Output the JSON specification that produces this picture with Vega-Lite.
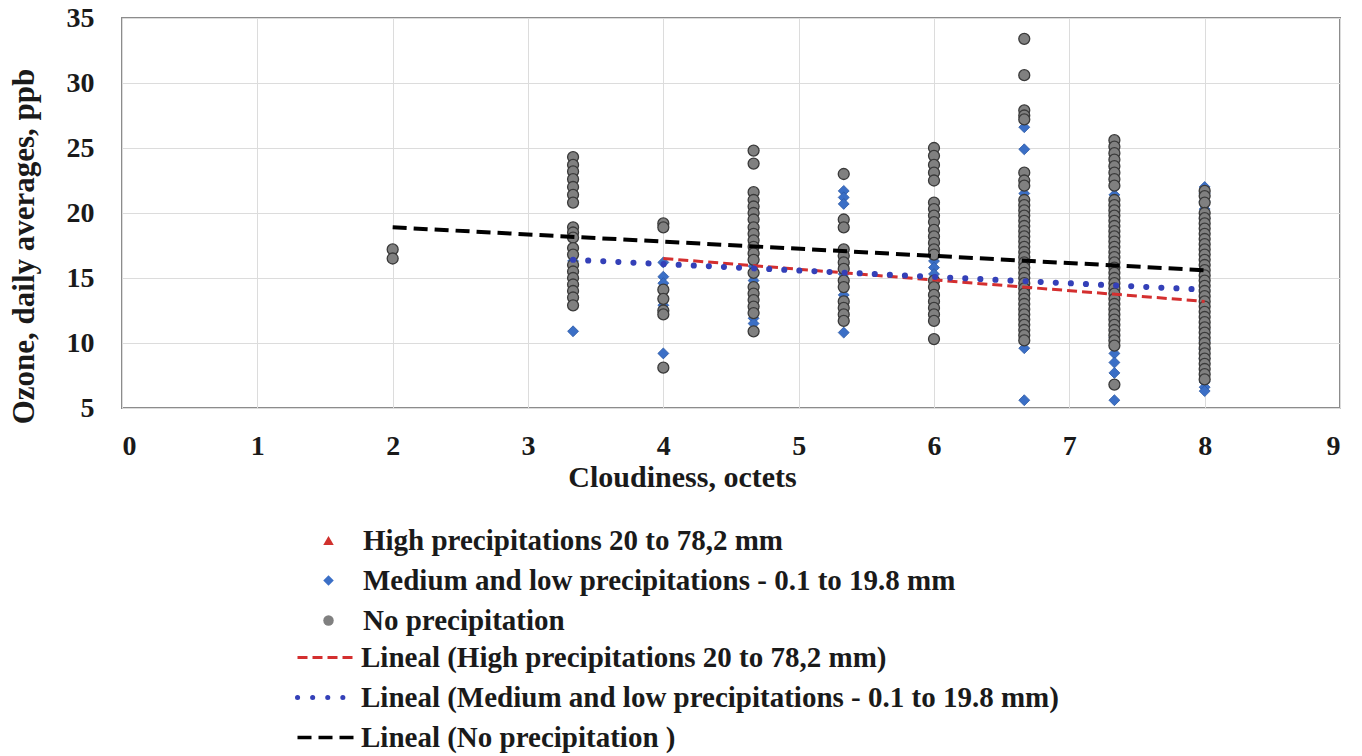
{
  "$schema": "https://vega.github.io/schema/vega-lite/v6.json",
  "width": 1218,
  "height": 390,
  "autosize": {"type": "none"},
  "padding": {"left": 122, "top": 18, "right": 22, "bottom": 348},
  "background": "white",
  "config": {
    "view": {"stroke": "#8c8c8c", "strokeWidth": 2},
    "font": "Liberation Serif",
    "axis": {
      "labelFont": "Liberation Serif", "labelFontWeight": "bold", "labelFontSize": 28, "labelColor": "#1a1a1a",
      "titleFont": "Liberation Serif", "titleFontWeight": "bold", "titleFontSize": 30, "titleColor": "#1a1a1a",
      "gridColor": "#dcdcdc", "gridWidth": 1, "domain": false, "ticks": false
    },
    "legend": {
      "labelFont": "Liberation Serif", "labelFontWeight": "bold", "labelFontSize": 29, "labelColor": "#1a1a1a",
      "labelLimit": 900, "padding": 0, "rowPadding": 10
    }
  },
  "datasets": {
    "pts": [
      {"x": 4, "y": 13.4, "s": "H"}, {"x": 4.667, "y": 16.9, "s": "H"}, {"x": 5.333, "y": 14.8, "s": "H"}, {"x": 6, "y": 14.3, "s": "H"},
      {"x": 6.667, "y": 15.0, "s": "H"}, {"x": 6.667, "y": 13.0, "s": "H"}, {"x": 7.333, "y": 14.2, "s": "H"}, {"x": 7.333, "y": 12.6, "s": "H"},
      {"x": 8, "y": 13.2, "s": "H"}, {"x": 8, "y": 11.2, "s": "H"},

      {"x": 3.333, "y": 16.3, "s": "M"}, {"x": 3.333, "y": 10.9, "s": "M"},
      {"x": 4, "y": 16.2, "s": "M"}, {"x": 4, "y": 15.1, "s": "M"}, {"x": 4, "y": 14.6, "s": "M"}, {"x": 4, "y": 12.9, "s": "M"}, {"x": 4, "y": 9.2, "s": "M"},
      {"x": 4.667, "y": 15.9, "s": "M"}, {"x": 4.667, "y": 14.8, "s": "M"}, {"x": 4.667, "y": 11.9, "s": "M"}, {"x": 4.667, "y": 11.5, "s": "M"},
      {"x": 5.333, "y": 21.7, "s": "M"}, {"x": 5.333, "y": 21.2, "s": "M"}, {"x": 5.333, "y": 20.7, "s": "M"}, {"x": 5.333, "y": 15.3, "s": "M"}, {"x": 5.333, "y": 13.7, "s": "M"}, {"x": 5.333, "y": 10.8, "s": "M"},
      {"x": 6, "y": 16.3, "s": "M"}, {"x": 6, "y": 15.8, "s": "M"}, {"x": 6, "y": 15.3, "s": "M"},
      {"x": 6.667, "y": 26.6, "s": "M"}, {"x": 6.667, "y": 24.9, "s": "M"}, {"x": 6.667, "y": 21.5, "s": "M"}, {"x": 6.667, "y": 16.0, "s": "M"}, {"x": 6.667, "y": 9.6, "s": "M"}, {"x": 6.667, "y": 5.6, "s": "M"},
      {"x": 7.333, "y": 21.4, "s": "M"}, {"x": 7.333, "y": 20.0, "s": "M"}, {"x": 7.333, "y": 16.0, "s": "M"}, {"x": 7.333, "y": 12.0, "s": "M"}, {"x": 7.333, "y": 10.4, "s": "M"},
      {"x": 7.333, "y": 9.2, "s": "M"}, {"x": 7.333, "y": 8.5, "s": "M"}, {"x": 7.333, "y": 7.7, "s": "M"}, {"x": 7.333, "y": 5.6, "s": "M"},
      {"x": 8, "y": 22.0, "s": "M"}, {"x": 8, "y": 21.5, "s": "M"}, {"x": 8, "y": 20.9, "s": "M"}, {"x": 8, "y": 20.3, "s": "M"}, {"x": 8, "y": 19.6, "s": "M"}, {"x": 8, "y": 14.1, "s": "M"},
      {"x": 8, "y": 11.0, "s": "M"}, {"x": 8, "y": 10.2, "s": "M"}, {"x": 8, "y": 9.5, "s": "M"}, {"x": 8, "y": 8.8, "s": "M"}, {"x": 8, "y": 7.0, "s": "M"}, {"x": 8, "y": 6.6, "s": "M"}, {"x": 8, "y": 6.3, "s": "M"},

      {"x": 2, "y": 17.2, "s": "N"}, {"x": 2, "y": 16.5, "s": "N"},
      {"x": 3.333, "y": 24.3, "s": "N"}, {"x": 3.333, "y": 23.7, "s": "N"}, {"x": 3.333, "y": 23.2, "s": "N"}, {"x": 3.333, "y": 22.6, "s": "N"}, {"x": 3.333, "y": 22.0, "s": "N"},
      {"x": 3.333, "y": 21.4, "s": "N"}, {"x": 3.333, "y": 20.8, "s": "N"}, {"x": 3.333, "y": 18.9, "s": "N"}, {"x": 3.333, "y": 18.5, "s": "N"}, {"x": 3.333, "y": 18.1, "s": "N"},
      {"x": 3.333, "y": 17.3, "s": "N"}, {"x": 3.333, "y": 16.8, "s": "N"}, {"x": 3.333, "y": 16.0, "s": "N"}, {"x": 3.333, "y": 15.5, "s": "N"}, {"x": 3.333, "y": 15.0, "s": "N"},
      {"x": 3.333, "y": 14.5, "s": "N"}, {"x": 3.333, "y": 14.0, "s": "N"}, {"x": 3.333, "y": 13.5, "s": "N"}, {"x": 3.333, "y": 12.9, "s": "N"},
      {"x": 4, "y": 19.2, "s": "N"}, {"x": 4, "y": 18.9, "s": "N"}, {"x": 4, "y": 14.1, "s": "N"}, {"x": 4, "y": 13.4, "s": "N"}, {"x": 4, "y": 12.5, "s": "N"}, {"x": 4, "y": 12.2, "s": "N"}, {"x": 4, "y": 8.1, "s": "N"},
      {"x": 4.667, "y": 24.8, "s": "N"}, {"x": 4.667, "y": 23.8, "s": "N"}, {"x": 4.667, "y": 21.6, "s": "N"}, {"x": 4.667, "y": 21.0, "s": "N"}, {"x": 4.667, "y": 20.5, "s": "N"},
      {"x": 4.667, "y": 20.0, "s": "N"}, {"x": 4.667, "y": 19.5, "s": "N"}, {"x": 4.667, "y": 18.9, "s": "N"}, {"x": 4.667, "y": 18.4, "s": "N"}, {"x": 4.667, "y": 17.9, "s": "N"},
      {"x": 4.667, "y": 17.4, "s": "N"}, {"x": 4.667, "y": 16.9, "s": "N"}, {"x": 4.667, "y": 16.4, "s": "N"}, {"x": 4.667, "y": 15.4, "s": "N"}, {"x": 4.667, "y": 14.3, "s": "N"},
      {"x": 4.667, "y": 13.8, "s": "N"}, {"x": 4.667, "y": 13.3, "s": "N"}, {"x": 4.667, "y": 12.8, "s": "N"}, {"x": 4.667, "y": 12.3, "s": "N"}, {"x": 4.667, "y": 10.9, "s": "N"},
      {"x": 5.333, "y": 23.0, "s": "N"}, {"x": 5.333, "y": 19.5, "s": "N"}, {"x": 5.333, "y": 18.9, "s": "N"}, {"x": 5.333, "y": 17.2, "s": "N"}, {"x": 5.333, "y": 16.7, "s": "N"},
      {"x": 5.333, "y": 16.2, "s": "N"}, {"x": 5.333, "y": 15.7, "s": "N"}, {"x": 5.333, "y": 14.8, "s": "N"}, {"x": 5.333, "y": 14.3, "s": "N"}, {"x": 5.333, "y": 13.2, "s": "N"},
      {"x": 5.333, "y": 12.7, "s": "N"}, {"x": 5.333, "y": 12.2, "s": "N"}, {"x": 5.333, "y": 11.7, "s": "N"},
      {"x": 6, "y": 25.0, "s": "N"}, {"x": 6, "y": 24.4, "s": "N"}, {"x": 6, "y": 23.7, "s": "N"}, {"x": 6, "y": 23.1, "s": "N"}, {"x": 6, "y": 22.5, "s": "N"},
      {"x": 6, "y": 20.8, "s": "N"}, {"x": 6, "y": 20.3, "s": "N"}, {"x": 6, "y": 19.8, "s": "N"}, {"x": 6, "y": 19.3, "s": "N"}, {"x": 6, "y": 18.7, "s": "N"},
      {"x": 6, "y": 18.2, "s": "N"}, {"x": 6, "y": 17.7, "s": "N"}, {"x": 6, "y": 17.2, "s": "N"}, {"x": 6, "y": 16.8, "s": "N"}, {"x": 6, "y": 14.8, "s": "N"},
      {"x": 6, "y": 14.3, "s": "N"}, {"x": 6, "y": 13.7, "s": "N"}, {"x": 6, "y": 13.2, "s": "N"}, {"x": 6, "y": 12.7, "s": "N"}, {"x": 6, "y": 12.2, "s": "N"},
      {"x": 6, "y": 11.7, "s": "N"}, {"x": 6, "y": 10.3, "s": "N"},
      {"x": 6.667, "y": 33.4, "s": "N"}, {"x": 6.667, "y": 30.6, "s": "N"}, {"x": 6.667, "y": 27.9, "s": "N"}, {"x": 6.667, "y": 27.5, "s": "N"}, {"x": 6.667, "y": 27.2, "s": "N"},
      {"x": 6.667, "y": 23.1, "s": "N"}, {"x": 6.667, "y": 22.5, "s": "N"}, {"x": 6.667, "y": 22.1, "s": "N"}, {"x": 6.667, "y": 21.0, "s": "N"}, {"x": 6.667, "y": 20.6, "s": "N"},
      {"x": 6.667, "y": 20.2, "s": "N"}, {"x": 6.667, "y": 19.8, "s": "N"}, {"x": 6.667, "y": 19.4, "s": "N"}, {"x": 6.667, "y": 19.0, "s": "N"}, {"x": 6.667, "y": 18.6, "s": "N"},
      {"x": 6.667, "y": 18.2, "s": "N"}, {"x": 6.667, "y": 17.8, "s": "N"}, {"x": 6.667, "y": 17.4, "s": "N"}, {"x": 6.667, "y": 17.0, "s": "N"}, {"x": 6.667, "y": 16.6, "s": "N"},
      {"x": 6.667, "y": 16.2, "s": "N"}, {"x": 6.667, "y": 15.8, "s": "N"}, {"x": 6.667, "y": 15.4, "s": "N"}, {"x": 6.667, "y": 15.0, "s": "N"}, {"x": 6.667, "y": 14.6, "s": "N"},
      {"x": 6.667, "y": 14.2, "s": "N"}, {"x": 6.667, "y": 13.8, "s": "N"}, {"x": 6.667, "y": 13.4, "s": "N"}, {"x": 6.667, "y": 13.0, "s": "N"}, {"x": 6.667, "y": 12.6, "s": "N"},
      {"x": 6.667, "y": 12.2, "s": "N"}, {"x": 6.667, "y": 11.8, "s": "N"}, {"x": 6.667, "y": 11.4, "s": "N"}, {"x": 6.667, "y": 11.0, "s": "N"}, {"x": 6.667, "y": 10.6, "s": "N"},
      {"x": 6.667, "y": 10.2, "s": "N"},
      {"x": 7.333, "y": 25.6, "s": "N"}, {"x": 7.333, "y": 25.1, "s": "N"}, {"x": 7.333, "y": 24.6, "s": "N"}, {"x": 7.333, "y": 24.1, "s": "N"}, {"x": 7.333, "y": 23.6, "s": "N"},
      {"x": 7.333, "y": 23.1, "s": "N"}, {"x": 7.333, "y": 22.6, "s": "N"}, {"x": 7.333, "y": 22.1, "s": "N"}, {"x": 7.333, "y": 21.0, "s": "N"}, {"x": 7.333, "y": 20.6, "s": "N"},
      {"x": 7.333, "y": 20.2, "s": "N"}, {"x": 7.333, "y": 19.8, "s": "N"}, {"x": 7.333, "y": 19.4, "s": "N"}, {"x": 7.333, "y": 19.0, "s": "N"}, {"x": 7.333, "y": 18.6, "s": "N"},
      {"x": 7.333, "y": 18.2, "s": "N"}, {"x": 7.333, "y": 17.8, "s": "N"}, {"x": 7.333, "y": 17.4, "s": "N"}, {"x": 7.333, "y": 17.0, "s": "N"}, {"x": 7.333, "y": 16.6, "s": "N"},
      {"x": 7.333, "y": 16.2, "s": "N"}, {"x": 7.333, "y": 15.8, "s": "N"}, {"x": 7.333, "y": 15.4, "s": "N"}, {"x": 7.333, "y": 15.0, "s": "N"}, {"x": 7.333, "y": 14.6, "s": "N"},
      {"x": 7.333, "y": 14.2, "s": "N"}, {"x": 7.333, "y": 13.8, "s": "N"}, {"x": 7.333, "y": 13.4, "s": "N"}, {"x": 7.333, "y": 13.0, "s": "N"}, {"x": 7.333, "y": 12.6, "s": "N"},
      {"x": 7.333, "y": 12.2, "s": "N"}, {"x": 7.333, "y": 11.8, "s": "N"}, {"x": 7.333, "y": 11.4, "s": "N"}, {"x": 7.333, "y": 11.0, "s": "N"}, {"x": 7.333, "y": 10.6, "s": "N"},
      {"x": 7.333, "y": 10.2, "s": "N"}, {"x": 7.333, "y": 9.8, "s": "N"}, {"x": 7.333, "y": 6.8, "s": "N"},
      {"x": 8, "y": 21.7, "s": "N"}, {"x": 8, "y": 21.3, "s": "N"}, {"x": 8, "y": 20.8, "s": "N"}, {"x": 8, "y": 20.0, "s": "N"}, {"x": 8, "y": 19.6, "s": "N"},
      {"x": 8, "y": 19.2, "s": "N"}, {"x": 8, "y": 18.8, "s": "N"}, {"x": 8, "y": 18.4, "s": "N"}, {"x": 8, "y": 18.0, "s": "N"}, {"x": 8, "y": 17.6, "s": "N"},
      {"x": 8, "y": 17.2, "s": "N"}, {"x": 8, "y": 16.8, "s": "N"}, {"x": 8, "y": 16.4, "s": "N"}, {"x": 8, "y": 16.0, "s": "N"}, {"x": 8, "y": 15.6, "s": "N"},
      {"x": 8, "y": 15.2, "s": "N"}, {"x": 8, "y": 14.8, "s": "N"}, {"x": 8, "y": 14.4, "s": "N"}, {"x": 8, "y": 14.0, "s": "N"}, {"x": 8, "y": 13.6, "s": "N"},
      {"x": 8, "y": 13.2, "s": "N"}, {"x": 8, "y": 12.8, "s": "N"}, {"x": 8, "y": 12.4, "s": "N"}, {"x": 8, "y": 12.0, "s": "N"}, {"x": 8, "y": 11.6, "s": "N"},
      {"x": 8, "y": 11.2, "s": "N"}, {"x": 8, "y": 10.8, "s": "N"}, {"x": 8, "y": 10.4, "s": "N"}, {"x": 8, "y": 10.0, "s": "N"}, {"x": 8, "y": 9.6, "s": "N"},
      {"x": 8, "y": 9.2, "s": "N"}, {"x": 8, "y": 8.8, "s": "N"}, {"x": 8, "y": 8.4, "s": "N"}, {"x": 8, "y": 8.0, "s": "N"}, {"x": 8, "y": 7.6, "s": "N"},
      {"x": 8, "y": 7.2, "s": "N"}
    ],
    "trend": [
      {"x": 4, "y": 16.5, "t": "TH"}, {"x": 8, "y": 13.2, "t": "TH"},
      {"x": 3.333, "y": 16.4, "t": "TM"}, {"x": 8, "y": 14.1, "t": "TM"},
      {"x": 2, "y": 18.9, "t": "TN"}, {"x": 8, "y": 15.6, "t": "TN"}
    ]
  },
  "encoding": {
    "x": {"field": "x", "type": "quantitative", "scale": {"domain": [0, 9], "nice": false},
      "axis": {"title": "Cloudiness, octets", "values": [0, 1, 2, 3, 4, 5, 6, 7, 8, 9], "labelPadding": 24, "titlePadding": 2, "titleX": 560, "grid": true}},
    "y": {"field": "y", "type": "quantitative", "scale": {"domain": [5, 35], "nice": false},
      "axis": {"title": "Ozone, daily averages, ppb", "values": [5, 10, 15, 20, 25, 30, 35], "labelPadding": 28, "titlePadding": 26, "titleY": 228, "titleFontSize": 31, "grid": true}}
  },
  "layer": [
    {
      "data": {"name": "pts"},
      "transform": [{"filter": "datum.s == 'H'"}],
      "mark": {"type": "point", "filled": true, "opacity": 1, "size": 40},
      "encoding": {
        "fill": {"field": "s", "type": "nominal",
          "scale": {"domain": ["H", "M", "N"], "range": ["#d0312d", "#3b6fc6", "#808080"]},
          "legend": {"title": null, "orient": "none", "legendX": 192, "legendY": 508, "direction": "vertical", "symbolSize": 110, "labelOffset": 20,
            "labelExpr": "datum.value == 'H' ? 'High precipitations 20 to 78,2 mm' : datum.value == 'M' ? 'Medium and low precipitations - 0.1 to 19.8 mm' : 'No precipitation'",
            "encode": {"symbols": {"update": {"stroke": {"signal": "datum.value == 'N' ? '#3c3c3c' : 'transparent'"}, "strokeWidth": {"value": 1}}}}}},
        "shape": {"field": "s", "type": "nominal",
          "scale": {"domain": ["H", "M", "N"], "range": ["triangle-up", "diamond", "circle"]},
          "legend": {"title": null, "orient": "none", "legendX": 192, "legendY": 508, "direction": "vertical", "symbolSize": 110, "labelOffset": 20,
            "labelExpr": "datum.value == 'H' ? 'High precipitations 20 to 78,2 mm' : datum.value == 'M' ? 'Medium and low precipitations - 0.1 to 19.8 mm' : 'No precipitation'",
            "encode": {"symbols": {"update": {"stroke": {"signal": "datum.value == 'N' ? '#3c3c3c' : 'transparent'"}, "strokeWidth": {"value": 1}}}}}}
      }
    },
    {
      "data": {"name": "pts"},
      "transform": [{"filter": "datum.s == 'M'"}],
      "mark": {"type": "point", "filled": true, "opacity": 1, "size": 120, "stroke": "#2d5aa6", "strokeWidth": 0.8},
      "encoding": {
        "fill": {"field": "s", "type": "nominal"},
        "shape": {"field": "s", "type": "nominal"}
      }
    },
    {
      "data": {"name": "pts"},
      "transform": [{"filter": "datum.s == 'N'"}],
      "mark": {"type": "point", "filled": true, "opacity": 1, "size": 120, "stroke": "#3a3a3a", "strokeWidth": 1.3},
      "encoding": {
        "fill": {"field": "s", "type": "nominal"},
        "shape": {"field": "s", "type": "nominal"}
      }
    },
    {
      "data": {"name": "trend"},
      "transform": [{"filter": "datum.t == 'TH'"}],
      "mark": {"type": "line", "strokeWidth": 3},
      "encoding": {
        "stroke": {"field": "t", "type": "nominal",
          "scale": {"domain": ["TH", "TM", "TN"], "range": ["#d42f2f", "#3440b8", "#000000"]},
          "legend": {"title": null, "orient": "none", "legendX": 191, "legendY": 625, "direction": "vertical", "symbolSize": 3600, "symbolStrokeWidth": 3, "labelOffset": 19,
            "labelExpr": "datum.value == 'TH' ? 'Lineal (High precipitations 20 to 78,2 mm)' : datum.value == 'TM' ? 'Lineal (Medium and low precipitations - 0.1 to 19.8 mm)' : 'Lineal (No precipitation )'",
            "encode": {"symbols": {"update": {"strokeCap": {"signal": "datum.value == 'TM' ? 'round' : 'butt'"}, "strokeWidth": {"signal": "datum.value == 'TM' ? 5 : datum.value == 'TN' ? 3.5 : 3"}}}}}},
        "strokeDash": {"field": "t", "type": "nominal",
          "scale": {"domain": ["TH", "TM", "TN"], "range": [[10, 5], [0.1, 15], [14, 7]]},
          "legend": {"title": null, "orient": "none", "legendX": 191, "legendY": 625, "direction": "vertical", "symbolSize": 3600, "symbolStrokeWidth": 3, "labelOffset": 19,
            "labelExpr": "datum.value == 'TH' ? 'Lineal (High precipitations 20 to 78,2 mm)' : datum.value == 'TM' ? 'Lineal (Medium and low precipitations - 0.1 to 19.8 mm)' : 'Lineal (No precipitation )'",
            "encode": {"symbols": {"update": {"strokeCap": {"signal": "datum.value == 'TM' ? 'round' : 'butt'"}, "strokeWidth": {"signal": "datum.value == 'TM' ? 5 : datum.value == 'TN' ? 3.5 : 3"}}}}}}
      }
    },
    {
      "data": {"name": "trend"},
      "transform": [{"filter": "datum.t == 'TM'"}],
      "mark": {"type": "line", "strokeWidth": 6, "strokeCap": "round"},
      "encoding": {
        "stroke": {"field": "t", "type": "nominal"},
        "strokeDash": {"field": "t", "type": "nominal"}
      }
    },
    {
      "data": {"name": "trend"},
      "transform": [{"filter": "datum.t == 'TN'"}],
      "mark": {"type": "line", "strokeWidth": 4},
      "encoding": {
        "stroke": {"field": "t", "type": "nominal"},
        "strokeDash": {"field": "t", "type": "nominal"}
      }
    }
  ]
}
